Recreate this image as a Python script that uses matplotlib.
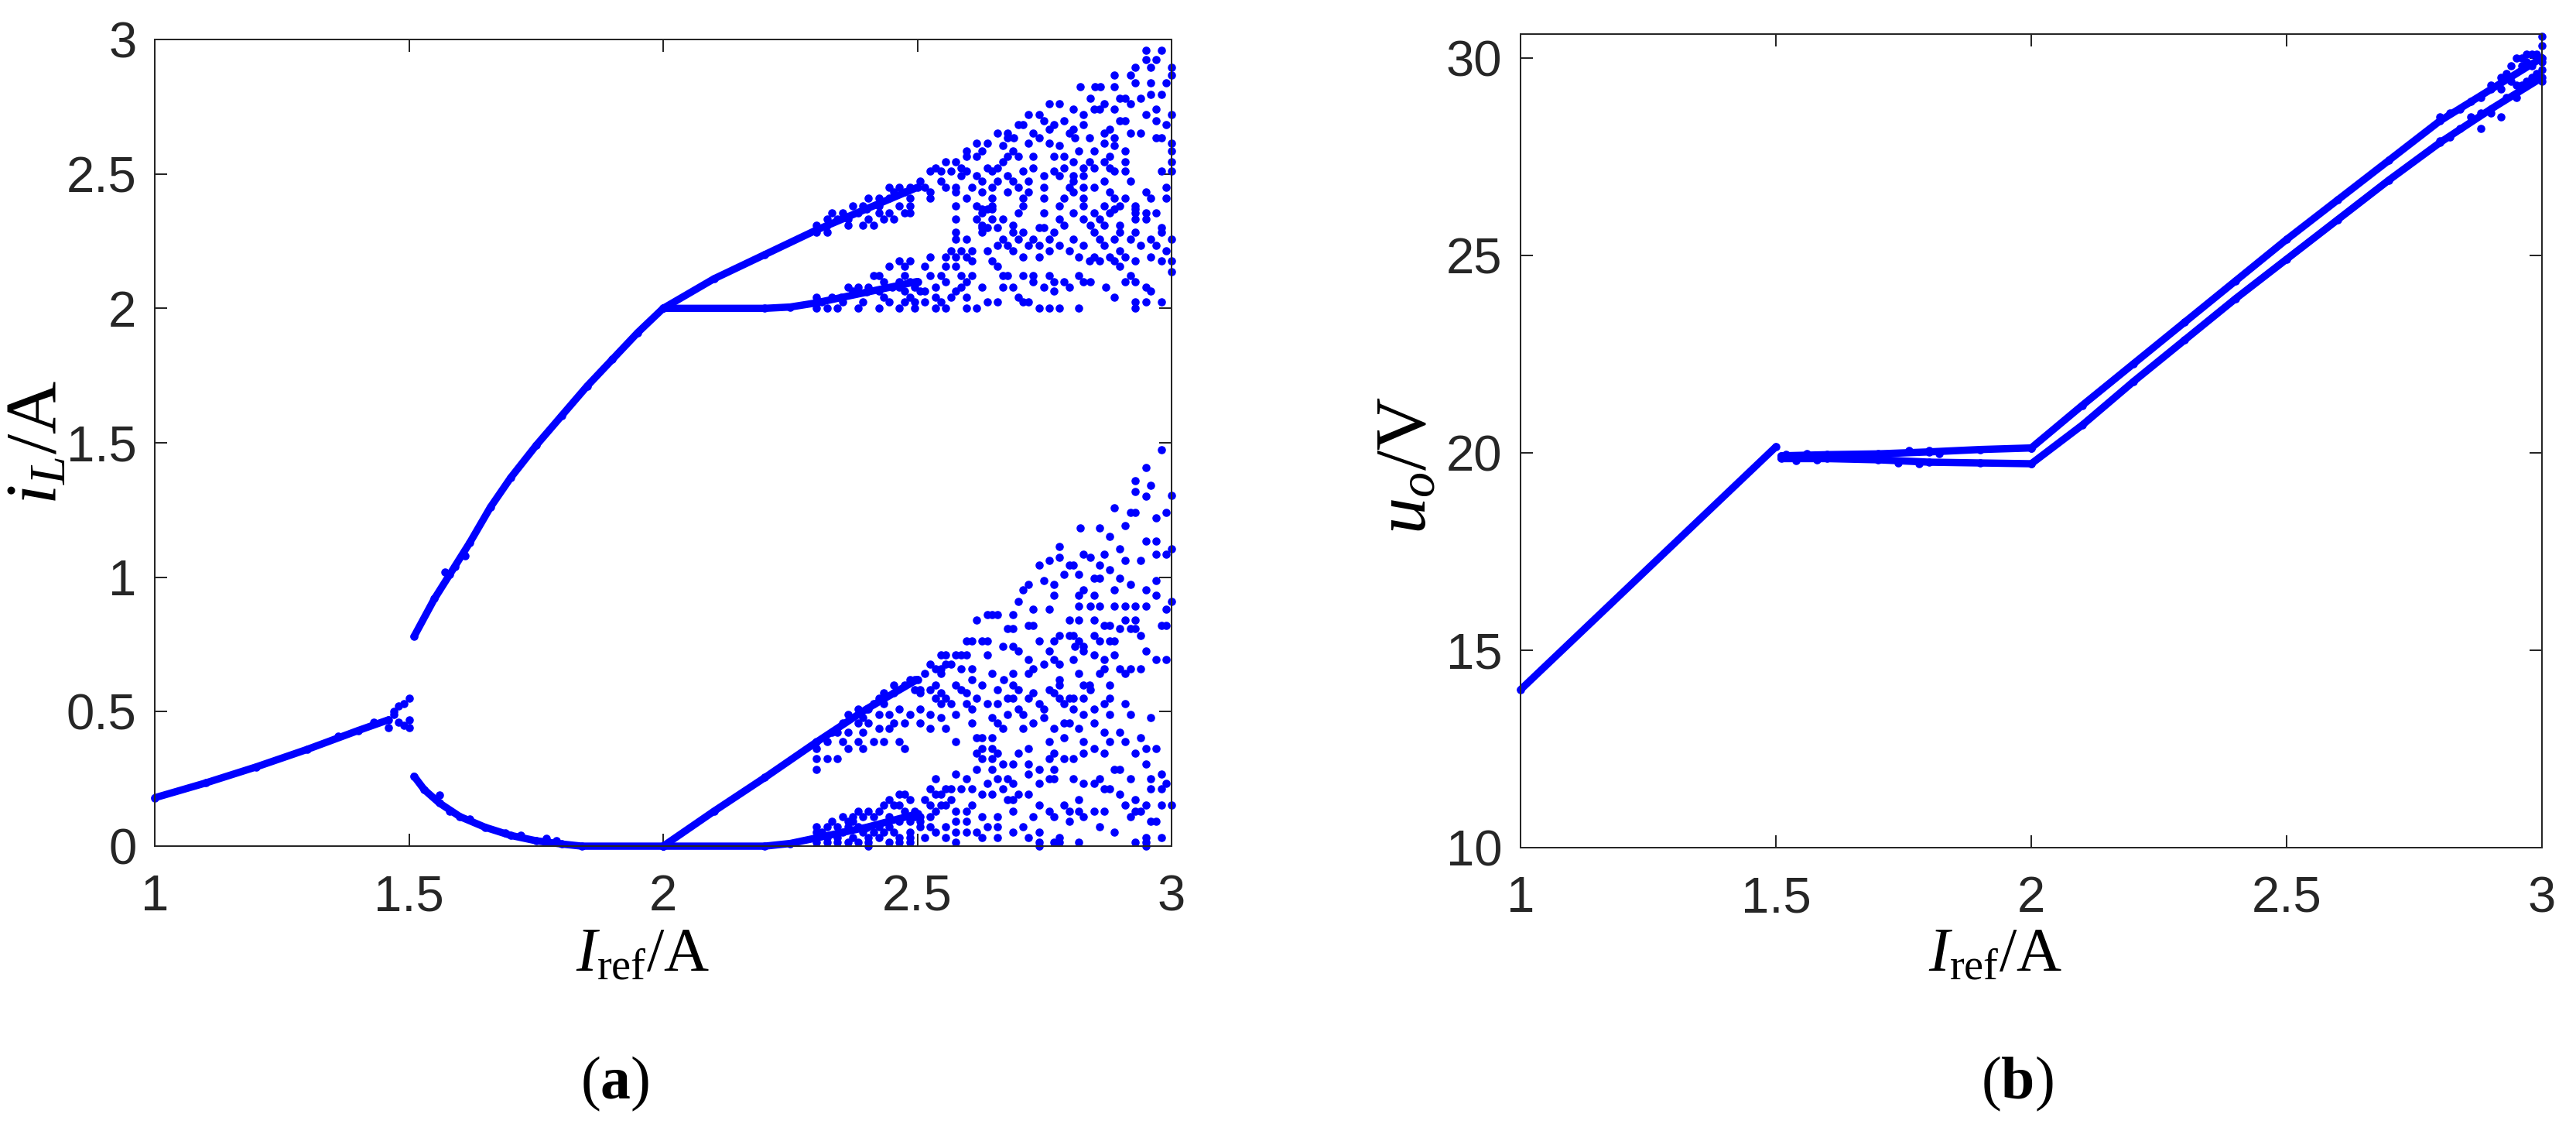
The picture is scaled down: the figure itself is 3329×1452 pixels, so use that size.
import numpy as np
import matplotlib
matplotlib.use("Agg")
import matplotlib.pyplot as plt

##========== Data (a): i_L vs I_ref ==========##
# period-1 branch
p1_x = [1.00, 1.10, 1.20, 1.30, 1.40, 1.46]
p1_y = [0.18, 0.235, 0.295, 0.36, 0.43, 0.47]
# period-2 branches (1.5 .. 2)
p2_hi_x = [1.51, 1.55, 1.58, 1.62, 1.66, 1.70, 1.75, 1.80, 1.85, 1.90, 1.95, 2.00]
p2_hi_y = [0.78, 0.92, 1.01, 1.13, 1.26, 1.37, 1.49, 1.60, 1.71, 1.81, 1.91, 2.00]
p2_lo_x = [1.51, 1.53, 1.56, 1.60, 1.65, 1.70, 1.75, 1.80, 1.84, 2.00]
p2_lo_y = [0.26, 0.21, 0.16, 0.11, 0.07, 0.04, 0.02, 0.008, 0.0, 0.0]
# branches after 2
up_a_x = [2.00, 2.10, 2.20, 2.30, 2.40, 2.50]
up_a_y = [2.00, 2.11, 2.20, 2.29, 2.37, 2.45]
up_b_x = [2.00, 2.20, 2.25, 2.30, 2.35, 2.40, 2.45, 2.50]
up_b_y = [2.00, 2.00, 2.005, 2.02, 2.04, 2.06, 2.08, 2.10]
lo_a_x = [2.00, 2.10, 2.20, 2.30, 2.40, 2.50]
lo_a_y = [0.00, 0.13, 0.255, 0.385, 0.51, 0.62]
lo_b_x = [2.00, 2.20, 2.25, 2.30, 2.40, 2.50]
lo_b_y = [0.00, 0.00, 0.01, 0.03, 0.07, 0.12]
# loose dots near the transitions
misc_x = [1.46, 1.47, 1.48, 1.48, 1.49, 1.49, 1.50, 1.50, 1.47, 1.50, 1.43, 1.36,
          1.56, 1.58, 1.62, 1.69, 1.72, 1.77, 1.79, 1.57, 1.59, 1.61]
misc_y = [0.44, 0.50, 0.46, 0.52, 0.45, 0.53, 0.55, 0.47, 0.49, 0.44, 0.46, 0.41,
          0.19, 0.13, 0.10, 0.05, 0.04, 0.03, 0.02, 1.02, 1.04, 1.08]

# chaotic band, upper part: one y level per row, x positions of the dots
hi_rows_y = [2.959, 2.926, 2.897, 2.868, 2.838, 2.825, 2.796, 2.780, 2.760, 2.741,
             2.722, 2.698, 2.683, 2.667, 2.653, 2.634, 2.614, 2.605, 2.585, 2.566,
             2.546, 2.523, 2.511, 2.492, 2.472, 2.449, 2.433, 2.410, 2.381, 2.370,
             2.355, 2.332, 2.309, 2.300, 2.283, 2.258, 2.235, 2.215, 2.192, 2.176,
             2.157, 2.137, 2.122, 2.098, 2.079, 2.063, 2.040, 2.024, 2.001]
hi_rows_x = [
    [2.949, 2.980],
    [2.949, 2.970],
    [2.929, 2.959, 3.000],
    [2.888, 2.919, 3.000],
    [2.929, 2.959, 2.990],
    [2.820, 2.850, 2.860, 2.888],
    [2.959, 2.980],
    [2.840, 2.898, 2.909, 2.939],
    [2.759, 2.779, 2.868, 2.919],
    [2.807, 2.848, 2.858, 2.888, 2.970],
    [2.718, 2.739, 2.827, 2.949, 3.000],
    [2.749, 2.789, 2.898, 2.909, 2.970],
    [2.698, 2.708, 2.769, 2.827, 2.990],
    [2.759, 2.807, 2.878],
    [2.657, 2.678, 2.728, 2.799, 2.868, 2.919, 2.939],
    [2.678, 2.690, 2.739, 2.810, 2.838, 2.888, 2.970, 2.980],
    [2.617, 2.637, 2.718, 2.759, 2.868, 3.000],
    [2.668, 2.779, 2.888],
    [2.596, 2.627, 2.688, 2.817, 2.848, 2.909, 3.000],
    [2.596, 2.617, 2.678, 2.698, 2.728, 2.769, 2.789, 2.878],
    [2.556, 2.576, 2.668, 2.807, 2.838, 2.868, 2.909, 3.000],
    [2.536, 2.586, 2.637, 2.657, 2.728, 2.789, 2.827, 2.848, 2.878],
    [2.525, 2.546, 2.566, 2.596, 2.647, 2.708, 2.769, 2.888, 2.909, 2.980, 3.000],
    [2.586, 2.617, 2.678, 2.749, 2.779, 2.807, 2.827],
    [2.505, 2.546, 2.627, 2.657, 2.688, 2.718, 2.807, 2.868, 2.919],
    [2.444, 2.464, 2.485, 2.515, 2.556, 2.576, 2.607, 2.647, 2.698, 2.749, 2.799, 2.827, 2.848, 2.990],
    [2.454, 2.475, 2.525, 2.576, 2.627, 2.678, 2.718, 2.807, 2.878, 2.949],
    [2.404, 2.424, 2.444, 2.485, 2.525, 2.596, 2.647, 2.708, 2.749, 2.789, 2.827, 2.888, 2.909, 2.959, 2.990],
    [2.373, 2.393, 2.424, 2.464, 2.485, 2.576, 2.617, 2.647, 2.708, 2.779, 2.827, 2.868, 2.898, 2.929],
    [2.627, 2.637, 2.647, 2.888, 2.929],
    [2.332, 2.353, 2.383, 2.424, 2.444, 2.475, 2.485, 2.627, 2.698, 2.749, 2.807, 2.848, 2.878, 2.929, 2.949, 2.970],
    [2.322, 2.343, 2.363, 2.404, 2.434, 2.454, 2.576, 2.617, 2.647, 2.668, 2.779, 2.827, 2.858, 2.929, 2.949],
    [2.302, 2.322, 2.363, 2.393, 2.414, 2.627, 2.688, 2.789, 2.840, 2.868, 2.898],
    [2.627, 2.637, 2.657, 2.739, 2.749, 2.980],
    [2.302, 2.322, 2.576, 2.627, 2.688, 2.708, 2.769, 2.848, 2.898, 2.929, 2.980],
    [2.576, 2.596, 2.668, 2.698, 2.728, 2.759, 2.807, 2.858, 2.888, 2.919, 2.959, 3.000],
    [2.657, 2.678, 2.718, 2.739, 2.779, 2.827, 2.868, 2.939, 2.970],
    [2.566, 2.586, 2.607, 2.637, 2.688, 2.759, 2.799, 2.898, 2.990],
    [2.525, 2.556, 2.576, 2.596, 2.708, 2.739, 2.817, 2.848, 2.878, 2.909, 2.959],
    [2.464, 2.485, 2.607, 2.647, 2.838, 2.858, 2.888, 2.929, 2.980, 3.000],
    [2.444, 2.475, 2.515, 2.556, 2.576, 2.657, 2.898],
    [3.000],
    [2.414, 2.424, 2.475, 2.525, 2.546, 2.586, 2.607, 2.668, 2.678, 2.708, 2.728, 2.759, 2.817, 2.919],
    [2.434, 2.464, 2.485, 2.556, 2.596, 2.728, 2.769, 2.789, 2.827, 2.840, 2.909, 2.929],
    [2.363, 2.383, 2.404, 2.464, 2.495, 2.536, 2.586, 2.627, 2.668, 2.688, 2.749, 2.799, 2.871, 2.949],
    [2.373, 2.424, 2.475, 2.505, 2.515, 2.576, 2.769, 2.959],
    [2.302, 2.332, 2.434, 2.485, 2.536, 2.566, 2.596, 2.698, 2.888],
    [2.312, 2.353, 2.393, 2.444, 2.475, 2.495, 2.515, 2.546, 2.637, 2.657, 2.708, 2.718, 2.929, 2.949, 2.980],
    [2.302, 2.322, 2.343, 2.383, 2.424, 2.464, 2.495, 2.536, 2.556, 2.596, 2.617, 2.739, 2.759, 2.779, 2.817, 2.929],
]

# chaotic band, lower part
lo_rows_y = [1.475, 1.407, 1.358, 1.342, 1.319, 1.305, 1.300, 1.257, 1.241, 1.222,
             1.192, 1.183, 1.153, 1.134, 1.114, 1.105, 1.085, 1.075, 1.062, 1.046,
             1.027, 1.011, 0.997, 0.988, 0.972, 0.953, 0.933, 0.910, 0.894, 0.880,
             0.861, 0.842, 0.822, 0.808, 0.783, 0.764, 0.744, 0.725, 0.711, 0.695,
             0.676, 0.660, 0.641, 0.618, 0.598, 0.583, 0.569, 0.549, 0.530, 0.510,
             0.491, 0.478, 0.458, 0.438, 0.423, 0.403, 0.388, 0.364, 0.345, 0.325,
             0.306, 0.286, 0.267, 0.251, 0.232, 0.212, 0.193, 0.173, 0.154, 0.131,
             0.111, 0.092, 0.072, 0.053, 0.033, 0.014, 0.000]
lo_rows_x = [
    [2.980], [2.949], [2.929], [2.959], [2.929], [3.000], [2.949], [2.888],
    [2.919, 2.929, 2.990], [2.970], [2.909], [2.820, 2.858], [2.878], [2.949, 2.970],
    [2.779], [2.898, 3.000], [2.827, 2.868, 2.970, 2.990], [2.779, 2.840],
    [2.759, 2.909, 2.939], [2.739, 2.799, 2.807, 2.858], [2.878], [2.789, 2.817],
    [2.848, 2.898, 2.858], [2.749, 2.970], [2.718, 2.769, 2.919],
    [2.708, 2.827, 2.888, 2.949], [2.769, 2.817, 2.848, 2.970], [2.698, 3.000],
    [2.817, 2.840, 2.858, 2.888, 2.909, 2.929, 2.949], [2.728, 2.759, 2.990],
    [2.637, 2.647, 2.657, 2.688], [2.617, 2.799, 2.817, 2.848, 2.909, 2.929],
    [2.718, 2.728, 2.868, 2.878, 2.980, 2.990], [2.678, 2.688, 2.898, 2.919, 2.929],
    [2.779, 2.799, 2.807, 2.848, 2.939],
    [2.596, 2.607, 2.627, 2.637, 2.739, 2.769, 2.817, 2.858, 2.878, 2.888],
    [2.668, 2.688, 2.810, 2.827], [2.698, 2.759, 2.827, 2.949],
    [2.546, 2.556, 2.576, 2.586, 2.596, 2.637, 2.848, 2.888],
    [2.718, 2.769, 2.807, 2.868, 2.970, 2.990], [2.525, 2.556, 2.566, 2.749, 2.779],
    [2.536, 2.546, 2.586, 2.607, 2.728, 2.868, 2.898, 2.919, 2.939],
    [2.515, 2.546, 2.647, 2.688, 2.718, 2.817, 2.858, 2.909],
    [2.485, 2.495, 2.607, 2.670, 2.779],
    [2.454, 2.475, 2.536, 2.576, 2.627, 2.688, 2.779, 2.827, 2.878, 2.838],
    [2.495, 2.505, 2.525, 2.586, 2.657, 2.698, 2.759, 2.840],
    [2.434, 2.454, 2.505, 2.546, 2.596, 2.728, 2.769],
    [2.424, 2.536, 2.556, 2.617, 2.678, 2.688, 2.718, 2.779, 2.799, 2.807, 2.827, 2.878],
    [2.414, 2.434, 2.546, 2.566, 2.596, 2.637, 2.657, 2.739, 2.789, 2.868, 2.909],
    [2.383, 2.404, 2.464, 2.505, 2.607, 2.698, 2.749, 2.807, 2.848],
    [2.363, 2.424, 2.444, 2.485, 2.525, 2.576, 2.678, 2.708, 2.827, 2.878, 2.919],
    [2.393, 2.546, 2.647, 2.749, 2.959],
    [2.353, 2.383, 2.404, 2.454, 2.475, 2.505, 2.607, 2.657, 2.728, 2.789, 2.799, 2.848],
    [2.424, 2.444, 2.525, 2.556, 2.668, 2.708, 2.769, 2.817],
    [2.332, 2.343, 2.393, 2.363, 2.868, 2.898],
    [2.617, 2.627, 2.647, 2.789, 2.939],
    [2.302, 2.322, 2.353, 2.383, 2.414, 2.434, 2.464, 2.576, 2.759, 2.827, 2.878, 2.909],
    [2.302, 2.363, 2.393, 2.475, 2.627, 2.647, 2.718, 2.848, 2.949, 2.970],
    [2.617, 2.657, 2.698, 2.769, 2.827, 2.868, 2.929],
    [2.302, 2.322, 2.343, 2.627, 2.647, 2.759, 2.789, 2.807],
    [2.668, 2.688, 2.718, 2.949],
    [2.302, 2.617, 2.647, 2.739, 2.769, 2.888, 2.898],
    [2.576, 2.718, 2.980],
    [2.536, 2.596, 2.657, 2.678, 2.759, 2.769, 2.807, 2.858, 2.919, 2.959],
    [2.637, 2.688, 2.739, 2.827, 2.848, 2.990],
    [2.525, 2.556, 2.566, 2.586, 2.607, 2.668, 2.868, 2.878, 2.959, 2.980],
    [2.464, 2.475, 2.536, 2.546, 2.627, 2.647, 2.698, 2.718, 2.898],
    [2.444, 2.485, 2.515, 2.566, 2.678, 2.688, 2.817, 2.929],
    [2.434, 2.454, 2.464, 2.525, 2.546, 2.556, 2.607, 2.739, 2.789, 2.909, 2.949, 2.980, 3.000],
    [2.383, 2.404, 2.424, 2.475, 2.495, 2.536, 2.576, 2.596, 2.688, 2.759, 2.799, 2.817, 2.848, 2.868, 2.929, 2.939],
    [2.353, 2.373, 2.393, 2.414, 2.444, 2.495, 2.505, 2.525, 2.627, 2.657, 2.728, 2.769, 2.827, 2.919],
    [2.332, 2.363, 2.373, 2.464, 2.485, 2.505, 2.576, 2.596, 2.799, 2.959, 2.970],
    [2.302, 2.322, 2.343, 2.363, 2.383, 2.424, 2.444, 2.505, 2.525, 2.556, 2.637, 2.657, 2.708, 2.858],
    [2.302, 2.312, 2.353, 2.393, 2.414, 2.434, 2.454, 2.485, 2.536, 2.576, 2.596, 2.617, 2.688, 2.739, 2.888],
    [2.302, 2.322, 2.343, 2.373, 2.404, 2.424, 2.464, 2.485, 2.515, 2.556, 2.627, 2.657, 2.718, 2.779, 2.949, 2.980],
    [2.302, 2.322, 2.343, 2.363, 2.383, 2.404, 2.444, 2.464, 2.485, 2.576, 2.739, 2.769, 2.779, 2.817, 2.929, 2.949],
    [2.404, 2.739, 2.949],
]

##========== Data (b): u_o vs I_ref ==========##
uo_p1_x = [1.00, 1.50]
uo_p1_y = [14.0, 20.15]
uo_flat_hi_x = [1.51, 1.60, 1.70, 1.80, 1.90, 2.00]
uo_flat_hi_y = [19.92, 19.95, 19.97, 20.02, 20.08, 20.12]
uo_flat_lo_x = [1.51, 1.60, 1.70, 1.80, 1.90, 2.00]
uo_flat_lo_y = [19.85, 19.85, 19.82, 19.76, 19.74, 19.72]
uo_hi_x = [2.00, 2.10, 2.20, 2.30, 2.40, 2.50, 2.60, 2.70, 2.80, 2.90, 3.00]
uo_hi_y = [20.12, 21.2, 22.25, 23.3, 24.35, 25.4, 26.4, 27.4, 28.4, 29.2, 30.0]
uo_lo_x = [2.00, 2.10, 2.20, 2.30, 2.40, 2.50, 2.60, 2.70, 2.80, 2.90, 3.00]
uo_lo_y = [19.72, 20.7, 21.8, 22.85, 23.9, 24.9, 25.9, 26.9, 27.85, 28.7, 29.5]
uo_dots_x = [1.52, 1.54, 1.56, 1.58, 1.62, 1.66, 1.70, 1.74, 1.76, 1.78, 1.80, 1.82,
             2.80, 2.80, 2.82, 2.82, 2.84, 2.84, 2.86, 2.86, 2.88, 2.88, 2.88,
             2.90, 2.90, 2.92, 2.92, 2.92, 2.93, 2.93, 2.94, 2.94, 2.95, 2.95, 2.95,
             2.96, 2.96, 2.96, 2.97, 2.97, 2.97, 2.98, 2.98, 2.98, 2.99, 2.99,
             3.00, 3.00, 3.00, 3.00, 3.00, 3.00]
uo_dots_y = [19.95, 19.80, 19.98, 19.82, 19.93, 19.88, 19.95, 19.75, 20.05, 19.72, 20.05, 19.98,
             27.9, 28.5, 28.0, 28.6, 28.2, 28.7, 28.5, 28.9, 28.2, 28.6, 29.0,
             28.6, 29.3, 28.5, 29.2, 29.5, 29.0, 29.6, 29.4, 29.8, 29.0, 29.3, 30.0,
             29.3, 29.8, 30.0, 29.4, 29.9, 30.1, 29.5, 29.8, 30.1, 29.6, 30.1,
             29.4, 29.7, 30.0, 30.3, 30.55, 29.9]

# axis tick labels
x_ticks = [1, 1.5, 2, 2.5, 3]
x_tick_labels = ['1', '1.5', '2', '2.5', '3']
il_ticks = [0, 0.5, 1, 1.5, 2, 2.5, 3]
il_tick_labels = ['0', '0.5', '1', '1.5', '2', '2.5', '3']
uo_ticks = [10, 15, 20, 25, 30]
uo_tick_labels = ['10', '15', '20', '25', '30']

##========== Style ==========##
plt.rcParams['font.family'] = ['Liberation Sans', 'DejaVu Sans']
plt.rcParams['mathtext.fontset'] = 'custom'
plt.rcParams['mathtext.rm'] = 'Liberation Serif'
plt.rcParams['mathtext.it'] = 'Liberation Serif:italic'
plt.rcParams['mathtext.bf'] = 'Liberation Serif:bold'

DARK = '#262626'
BLUE = '#0000ff'
MS = 3.8      # dot diameter in points
LW = 3.4

fig = plt.figure(figsize=(3329 / 200, 1452 / 200), dpi=200)
ax1 = fig.add_axes([0.0601, 0.2472, 0.3947, 0.7177])
ax2 = fig.add_axes([0.5903, 0.2459, 0.3965, 0.7238])


def strand(ax, x, y):
    ax.plot(x, y, '-', color=BLUE, lw=LW, solid_capstyle='round', clip_on=False)
    ax.plot(x, y, 'o', color=BLUE, ms=MS, mew=0, clip_on=False)


def dots(ax, x, y):
    ax.plot(x, y, 'o', color=BLUE, ms=MS, mew=0, clip_on=False)


def style(ax, yticks, ylabels, ylim):
    ax.set_xlim(1, 3)
    ax.set_ylim(*ylim)
    ax.set_xticks(x_ticks, x_tick_labels)
    ax.set_yticks(yticks, ylabels)
    for s in ax.spines.values():
        s.set_color(DARK)
        s.set_linewidth(0.72)
    ax.tick_params(direction='in', length=5.8, width=0.72, color=DARK,
                   labelcolor=DARK, labelsize=23.5, top=True, right=True)
    ax.tick_params(axis='x', pad=13)
    ax.tick_params(axis='y', pad=8.5)


##========== Panel (a) ==========##
for sx, sy in [(p1_x, p1_y), (p2_hi_x, p2_hi_y), (p2_lo_x, p2_lo_y),
               (up_a_x, up_a_y), (up_b_x, up_b_y), (lo_a_x, lo_a_y), (lo_b_x, lo_b_y)]:
    strand(ax1, sx, sy)
dots(ax1, misc_x, misc_y)
cx = [x for row in hi_rows_x for x in row] + [x for row in lo_rows_x for x in row]
cy = ([y for y, row in zip(hi_rows_y, hi_rows_x) for _ in row]
      + [y for y, row in zip(lo_rows_y, lo_rows_x) for _ in row])
dots(ax1, cx, cy)
style(ax1, il_ticks, il_tick_labels, (0, 3))
ax1.set_xlabel(r'$I_{\mathrm{ref}}/\mathrm{A}$', fontsize=29, color='black')
ax1.xaxis.set_label_coords(0.48, -0.098)
ax1.set_ylabel(r'$i_L/\mathrm{A}$', fontsize=34, color='black')
ax1.yaxis.set_label_coords(-0.082, 0.5)

##========== Panel (b) ==========##
for sx, sy in [(uo_p1_x, uo_p1_y), (uo_flat_hi_x, uo_flat_hi_y), (uo_flat_lo_x, uo_flat_lo_y),
               (uo_hi_x, uo_hi_y), (uo_lo_x, uo_lo_y)]:
    strand(ax2, sx, sy)
dots(ax2, uo_dots_x, uo_dots_y)
style(ax2, uo_ticks, uo_tick_labels, (10, 30.6))
ax2.set_xlabel(r'$I_{\mathrm{ref}}/\mathrm{A}$', fontsize=29, color='black')
ax2.xaxis.set_label_coords(0.465, -0.096)
ax2.set_ylabel(r'$u_o/\mathrm{V}$', fontsize=34, color='black')
ax2.yaxis.set_label_coords(-0.078, 0.47)

fig.text(795 / 3329, 1 - 1400 / 1452, r'$(\mathbf{a})$', fontsize=28, ha='center', va='center')
fig.text(2607 / 3329, 1 - 1400 / 1452, r'$(\mathbf{b})$', fontsize=28, ha='center', va='center')

fig.savefig('out.png', dpi=200)
